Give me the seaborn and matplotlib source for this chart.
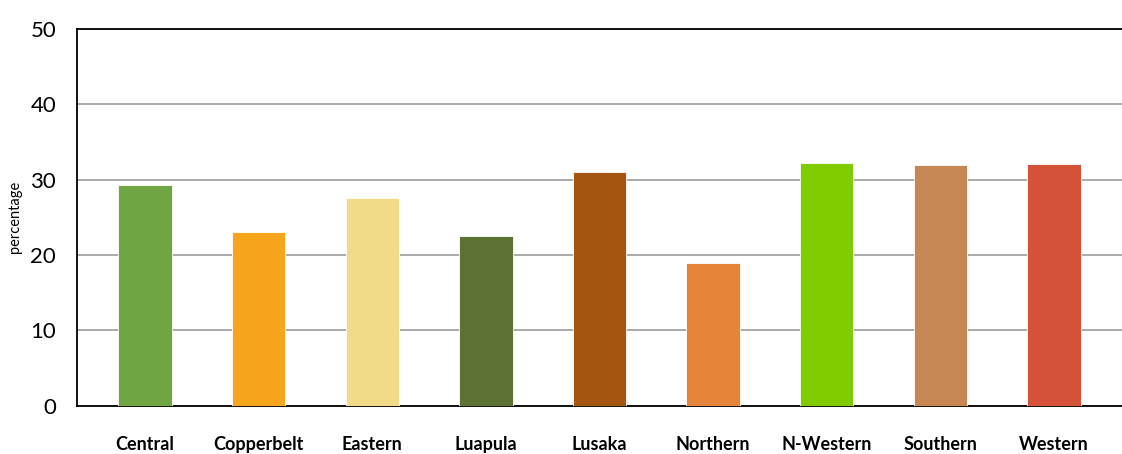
import pandas as pd
import seaborn as sns
import matplotlib.pyplot as plt

provinces = ["Central", "Copperbelt", "Eastern", "Luapula", "Lusaka",
             "Northern", "N-Western", "Southern", "Western"]
percentage = [29.3, 23.1, 27.6, 22.5, 31.0, 18.9, 32.2, 32.0, 32.1]
bar_colors = ["#70A544", "#F8A51E", "#F2DB88", "#5B7233", "#A5550F",
              "#E6843A", "#80CC00", "#C68754", "#D55238"]

df = pd.DataFrame({"province": provinces, "percentage": percentage})

sns.set_style("white")
plt.rcParams["font.family"] = ["Lato", "DejaVu Sans"]

fig = plt.figure(figsize=(11.22, 4.54), dpi=100)
ax = fig.add_axes([0.0686, 0.1066, 0.9314, 0.8295])

sns.barplot(data=df, x="province", y="percentage", hue="province",
            palette=bar_colors, saturation=1, width=0.47, legend=False,
            ax=ax, edgecolor="white", linewidth=0.6, zorder=3)

ax.set_ylim(0, 50)
ax.set_xlim(-0.6, 8.6)
ax.set_yticks([0, 10, 20, 30, 40, 50])
ax.yaxis.grid(True, color="#aaaaaa", linewidth=1.4, zorder=0)
ax.set_axisbelow(True)

for side in ["left", "top", "bottom"]:
    ax.spines[side].set_color("black")
    ax.spines[side].set_linewidth(1.3)
ax.spines["right"].set_visible(False)

ax.tick_params(axis="y", length=0, pad=15, labelsize=16, labelcolor="black")
ax.tick_params(axis="x", length=0, pad=22, labelcolor="black")
for lbl in ax.get_xticklabels():
    lbl.set_fontsize(13)
    lbl.set_fontweight("bold")

ax.set_xlabel("")
ax.set_ylabel("percentage", fontsize=10.5, labelpad=6, color="black")

fig.savefig("out.png", dpi=100)
